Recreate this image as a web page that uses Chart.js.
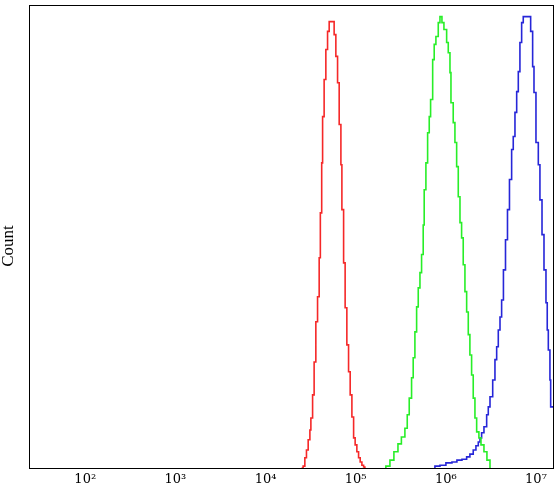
<!DOCTYPE html>
<html>
<head>
<meta charset="utf-8">
<script src="https://cdn.jsdelivr.net/npm/chart.js@4/dist/chart.umd.min.js"></script>
<style>
  html, body { margin: 0; padding: 0; background: #fff; }
  #wrap { width: 560px; height: 494px; }
</style>
</head>
<body>
<div id="wrap"><canvas id="hist"></canvas></div>
<script>
// fluorescence channel (log10 of intensity) where each histogram step starts, and its count (% of max)
const redLog = [4.40, 4.417, 4.436, 4.454, 4.473, 4.492, 4.503, 4.522, 4.539, 4.558, 4.577, 4.595, 4.608, 4.623, 4.633, 4.650, 4.669, 4.688, 4.706, 4.761, 4.780, 4.799, 4.817, 4.836, 4.847, 4.866, 4.883, 4.902, 4.921, 4.939, 4.958, 4.977, 4.994, 5.013, 5.032, 5.050, 5.069, 5.088, 5.102];
const redCount = [0, 0.4, 2.2, 3.9, 6.1, 8.2, 10.8, 15.8, 22.9, 31.6, 37.0, 45.4, 55.1, 65.9, 75.9, 83.9, 90.4, 94.3, 96.4, 93.6, 88.9, 83.2, 74.2, 65.5, 55.8, 44.3, 34.6, 26.6, 20.8, 15.8, 11.0, 6.5, 5.0, 3.5, 2.2, 1.3, 0.6, 0.2, 0];

const greenLog = [5.325, 5.335, 5.380, 5.424, 5.469, 5.507, 5.546, 5.572, 5.594, 5.620, 5.638, 5.657, 5.676, 5.694, 5.713, 5.731, 5.749, 5.760, 5.779, 5.798, 5.816, 5.831, 5.854, 5.871, 5.890, 5.916, 5.935, 5.957, 5.979, 6.009, 6.027, 6.046, 6.057, 6.082, 6.101, 6.120, 6.138, 6.157, 6.175, 6.193, 6.212, 6.231, 6.249, 6.267, 6.286, 6.304, 6.323, 6.342, 6.367, 6.390, 6.423, 6.456, 6.490];
const greenCount = [0, 0.4, 1.7, 3.5, 5.2, 6.7, 8.6, 11.5, 15.1, 19.5, 23.8, 29.4, 34.8, 38.9, 42.2, 46.1, 52.5, 60.1, 65.9, 72.4, 75.9, 79.6, 88.2, 91.5, 93.2, 96.2, 97.5, 96.2, 94.7, 91.9, 89.7, 85.4, 78.9, 74.6, 70.3, 65.1, 58.6, 53.0, 49.7, 43.9, 38.1, 33.7, 28.8, 24.4, 20.1, 15.1, 10.8, 7.8, 6.5, 5.0, 3.5, 1.7, 0];

const blueLog = [5.870, 5.879, 5.935, 6.001, 6.068, 6.123, 6.179, 6.231, 6.267, 6.304, 6.334, 6.360, 6.379, 6.397, 6.423, 6.453, 6.471, 6.490, 6.520, 6.545, 6.564, 6.582, 6.601, 6.619, 6.639, 6.662, 6.684, 6.706, 6.730, 6.748, 6.767, 6.786, 6.804, 6.822, 6.841, 6.859, 6.941, 6.963, 6.978, 7.000, 7.026, 7.044, 7.067, 7.089, 7.111, 7.125, 7.137, 7.155, 7.163, 7.250];
const blueCount = [0, 0.4, 0.6, 1.1, 1.3, 1.7, 1.9, 2.4, 3.0, 3.9, 4.8, 5.6, 6.5, 7.6, 8.9, 11.5, 13.2, 15.4, 19.0, 23.4, 26.2, 29.8, 32.6, 36.3, 42.8, 49.3, 55.8, 62.3, 68.8, 71.6, 76.8, 81.3, 85.6, 91.9, 96.2, 97.5, 94.3, 86.7, 81.1, 70.3, 65.5, 57.9, 50.4, 42.8, 35.7, 29.8, 25.5, 19.0, 13.2, 13.2];

const tickPowers = [2, 3, 4, 5, 6, 7];
const tickLabels = ['10²', '10³', '10⁴', '10⁵', '10⁶', '10⁷'];
const axisMinLog = 1.376;
const axisMaxLog = 7.2;
const yTitle = 'Count';

function toPoints(logs, counts) {
  return logs.map((v, i) => ({ x: Math.pow(10, v), y: counts[i] }));
}

function series(label, logs, counts, color) {
  return {
    label,
    data: toPoints(logs, counts),
    borderColor: color,
    borderWidth: 1.6,
    pointRadius: 0,
    stepped: true,
    fill: false,
  };
}

const frame = {
  id: 'frame',
  afterDatasetsDraw(chart) {
    const { ctx, chartArea: a } = chart;
    ctx.save();
    ctx.strokeStyle = '#000';
    ctx.lineWidth = 1;
    ctx.strokeRect(a.left + 0.5, a.top + 0.5, a.right - a.left - 1, a.bottom - a.top);
    // y axis title, sits a bit below the middle like the original
    ctx.translate(9, 246);
    ctx.rotate(-Math.PI / 2);
    ctx.fillStyle = '#000';
    ctx.font = '17px "Liberation Serif", serif';
    ctx.textAlign = 'center';
    ctx.textBaseline = 'middle';
    ctx.fillText(yTitle, 0, 0);
    ctx.restore();
  },
};

new Chart(document.getElementById('hist'), {
  type: 'line',
  data: {
    datasets: [
      series('red', redLog, redCount, '#f52828'),
      series('green', greenLog, greenCount, '#28ee28'),
      series('blue', blueLog, blueCount, '#2626d8'),
    ],
  },
  options: {
    responsive: true,
    maintainAspectRatio: false,
    animation: false,
    layout: { padding: { top: 5, right: 6, left: 0, bottom: 0 } },
    plugins: { legend: { display: false }, tooltip: { enabled: false } },
    scales: {
      x: {
        type: 'logarithmic',
        min: Math.pow(10, axisMinLog),
        max: Math.pow(10, axisMaxLog),
        grid: { display: false, drawTicks: false },
        border: { display: false },
        afterBuildTicks: (scale) => {
          scale.ticks = tickPowers.map((p) => ({ value: Math.pow(10, p) }));
        },
        afterFit: (scale) => { scale.height = 26; },
        ticks: {
          autoSkip: false,
          maxRotation: 0,
          padding: 4,
          color: '#000',
          font: { family: '"DejaVu Serif", serif', size: 13 },
          callback: (v) => tickLabels[tickPowers.indexOf(Math.round(Math.log10(v)))],
        },
      },
      y: {
        min: 0,
        max: 100,
        grid: { display: false, drawTicks: false },
        border: { display: false },
        ticks: { display: false },
        afterFit: (scale) => { scale.width = 29; },
      },
    },
  },
  plugins: [frame],
});
</script>
</body>
</html>
